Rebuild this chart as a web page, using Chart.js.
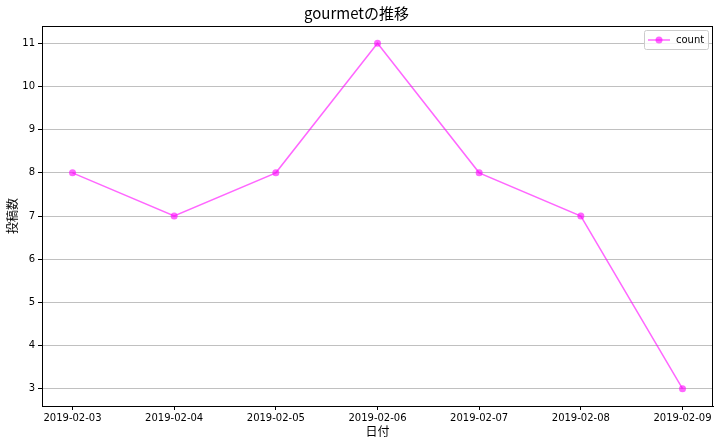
<!DOCTYPE html>
<html>
<head>
<meta charset="utf-8">
<script src="https://cdn.jsdelivr.net/npm/chart.js@4"></script>
<style>
  html, body { margin: 0; padding: 0; background: #fff; }
  #wrap { width: 722px; height: 444px; }
</style>
</head>
<body>
<div id="wrap"><canvas id="chart" width="722" height="444"></canvas></div>
<script>
const dates = ['2019-02-03', '2019-02-04', '2019-02-05', '2019-02-06', '2019-02-07', '2019-02-08', '2019-02-09'];
const counts = [8, 7, 8, 11, 8, 7, 3];
const yTicks = [3, 4, 5, 6, 7, 8, 9, 10, 11];

const FONT = "'DejaVu Sans', 'Noto Sans CJK JP', sans-serif";
const JP = "'Noto Sans CJK JP', sans-serif";
const lineColor = 'rgba(255, 0, 255, 0.6)';

// frame + legend drawn like matplotlib
const framePlugin = {
    id: 'frame',
    afterDraw(chart) {
        const { ctx, chartArea: a } = chart;
        ctx.save();
        ctx.strokeStyle = '#000';
        ctx.lineWidth = 1;
        ctx.strokeRect(a.left + 0.5, a.top + 0.5, a.right - a.left - 1, a.bottom - a.top);

        // legend box
        const bx = a.right - 69, by = a.top + 4, bw = 64, bh = 19;
        ctx.fillStyle = 'rgba(255,255,255,0.8)';
        ctx.strokeStyle = '#ccc';
        ctx.beginPath();
        ctx.roundRect(bx + 0.5, by + 0.5, bw, bh, 2);
        ctx.fill();
        ctx.stroke();
        ctx.strokeStyle = lineColor;
        ctx.lineWidth = 1.5;
        ctx.beginPath();
        ctx.moveTo(bx + 4, by + 10);
        ctx.lineTo(bx + 26, by + 10);
        ctx.stroke();
        ctx.fillStyle = lineColor;
        ctx.beginPath();
        ctx.arc(bx + 15, by + 10, 3.5, 0, Math.PI * 2);
        ctx.fill();
        ctx.fillStyle = '#000';
        ctx.font = '10px ' + FONT;
        ctx.textBaseline = 'middle';
        ctx.fillText('count', bx + 32, by + 10);
        ctx.restore();
    }
};

new Chart(document.getElementById('chart'), {
    type: 'line',
    data: {
        datasets: [{
            label: 'count',
            data: counts.map((v, i) => ({ x: i, y: v })),
            borderColor: lineColor,
            backgroundColor: lineColor,
            borderWidth: 1.5,
            pointRadius: 3.5,
            pointBorderWidth: 0,
            tension: 0
        }]
    },
    options: {
        responsive: false,
        animation: false,
        layout: { padding: { left: 0, right: 9, top: 0, bottom: 0 } },
        plugins: {
            legend: { display: false },
            tooltip: { enabled: false },
            title: {
                display: true,
                text: 'gourmetの推移',
                color: '#000',
                font: { family: JP, size: 15, weight: 'normal' },
                padding: { top: 4, bottom: 4 }
            }
        },
        scales: {
            x: {
                type: 'linear',
                min: -0.3,
                max: 6.3,
                afterBuildTicks: (s) => { s.ticks = dates.map((d, i) => ({ value: i })); },
                afterFit: (s) => { s.height = 38; },
                ticks: {
                    callback: (v) => dates[v],
                    color: '#000',
                    maxRotation: 0,
                    autoSkip: false,
                    font: { family: FONT, size: 10 },
                    padding: 2
                },
                grid: { display: true, drawOnChartArea: false, tickLength: 4, tickColor: '#000' },
                border: { color: '#000' },
                title: {
                    display: true,
                    text: '日付',
                    color: '#000',
                    font: { family: JP, size: 12 },
                    padding: { top: 0, bottom: 5 }
                }
            },
            y: {
                min: 2.6,
                max: 11.4,
                afterBuildTicks: (s) => { s.ticks = yTicks.map(v => ({ value: v })); },
                afterFit: (s) => { s.width = 42; },
                ticks: {
                    color: '#000',
                    font: { family: FONT, size: 10 },
                    padding: 3
                },
                grid: { color: '#c0c0c0', tickLength: 4, tickColor: '#000' },
                border: { color: '#000' },
                title: {
                    display: true,
                    text: '投稿数',
                    color: '#000',
                    font: { family: JP, size: 12 },
                    padding: { top: 5, bottom: 4 }
                }
            }
        }
    },
    plugins: [framePlugin]
});
</script>
</body>
</html>
